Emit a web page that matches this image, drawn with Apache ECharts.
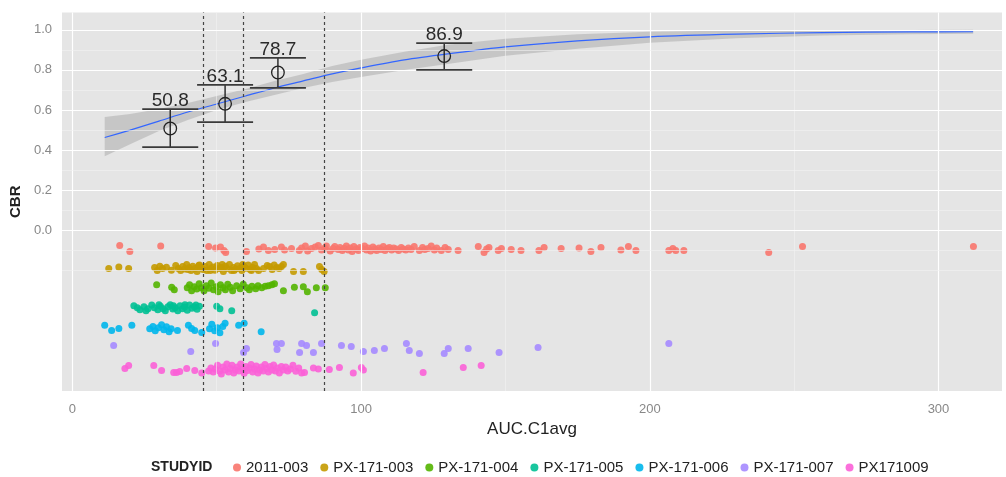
<!DOCTYPE html>
<html><head><meta charset="utf-8">
<script src="https://cdn.jsdelivr.net/npm/echarts@6.0.0/dist/echarts.min.js"></script>
<style>html,body{margin:0;padding:0;background:#fff}#chart{width:1006px;height:477px}</style>
</head><body><div id="chart"></div>
<script>
const FONT = '"Liberation Sans", Arial, sans-serif';

// ---- axes / ticks ----
const xTicks = [0, 100, 200, 300];
const xMinorBreaks = [50, 150, 250];
const yTicks = [0, 0.2, 0.4, 0.6, 0.8, 1.0];
const yMinorBreaks = [-0.2, -0.1, 0.1, 0.3, 0.5, 0.7, 0.9];
const xRange = [-3.6, 322];
const yRange = [-0.8, 1.086];

// ---- quartile cut points (dashed lines) ----
const quartileCuts = [45.4, 59.2, 87.3];

// ---- binned CBR with CI ----
const binX = [33.9, 52.9, 71.2, 128.8];
const binCBR = [0.508, 0.631, 0.787, 0.869];
const binLo = [0.415, 0.54, 0.71, 0.80];
const binHi = [0.605, 0.725, 0.86, 0.933];
const binLabels = ['50.8', '63.1', '78.7', '86.9'];

// ---- fitted logistic curve and its band ----
const fitX  = [11.2, 20, 30, 40, 50, 60, 70, 80, 90, 100, 115, 130, 150, 175, 200, 230, 260, 290, 312];
const fitY  = [0.463, 0.50, 0.545, 0.59, 0.63, 0.67, 0.71, 0.745, 0.78, 0.81, 0.85, 0.88, 0.915, 0.945, 0.965, 0.978, 0.986, 0.989, 0.99];
const fitLo = [0.37, 0.43, 0.495, 0.55, 0.60, 0.64, 0.675, 0.71, 0.74, 0.765, 0.80, 0.83, 0.87, 0.905, 0.935, 0.958, 0.972, 0.978, 0.98];
const fitHi = [0.565, 0.58, 0.605, 0.635, 0.67, 0.705, 0.745, 0.78, 0.82, 0.85, 0.89, 0.925, 0.955, 0.978, 0.99, 0.996, 0.998, 0.999, 1.0];

// ---- studies ----
const studyNames = ['2011-003', 'PX-171-003', 'PX-171-004', 'PX-171-005', 'PX-171-006', 'PX-171-007', 'PX171009'];
const studyColors = ['#F8766D', '#C49A00', '#53B400', '#00C094', '#00B6EB', '#A58AFF', '#FB61D7'];

const pts2011003 = [
[16.4,-0.075],[19.9,-0.105],[30.6,-0.078],[47.2,-0.08],[49.6,-0.088],[51.3,-0.082],[52.5,-0.1],[53.1,-0.11],[60.3,-0.105],[64.6,-0.092],[66.2,-0.083],[67.9,-0.1],[70.1,-0.095],[72.4,-0.082],[73.5,-0.098],[75.9,-0.09],[78.6,-0.1],[79.4,-0.088],[80.7,-0.078],[81.5,-0.102],[82.8,-0.09],[84.1,-0.083],[85.2,-0.075],[86.3,-0.098],[87.4,-0.088],[88,-0.078],[89.3,-0.103],[90.3,-0.09],[90.9,-0.08],
[92.1,-0.095],[92.7,-0.085],[93.5,-0.1],[94.2,-0.09],[94.9,-0.078],[95.6,-0.097],[96.2,-0.087],[96.9,-0.105],[97.5,-0.08],[98.3,-0.093],[99.1,-0.1],[99.6,-0.085],[100.4,-0.09],[101.2,-0.078],[101.9,-0.098],[102.5,-0.088],[103.3,-0.102],[104.1,-0.083],[104.8,-0.093],[105.4,-0.1],[106.2,-0.087],[106.9,-0.095],[107.7,-0.08],[108.3,-0.1],[109.1,-0.09],[109.8,-0.085],[110.6,-0.097],[111.3,-0.088],[112.2,-0.093],[113,-0.1],[113.9,-0.085],[114.6,-0.092],[115.5,-0.098],[116.4,-0.088],[117.3,-0.095],[118.4,-0.08],
[120.2,-0.1],[121.3,-0.085],[122.1,-0.095],[123.2,-0.09],[124.3,-0.078],[125.4,-0.098],[126.2,-0.088],[127.8,-0.1],[129.1,-0.085],[130.2,-0.095],[133.6,-0.1],[140.6,-0.08],[142.6,-0.11],[143.5,-0.092],[144.3,-0.085],[147.5,-0.1],[148.6,-0.09],[152,-0.095],[155.4,-0.1],[161.6,-0.1],[163.4,-0.085],[169.3,-0.09],[175.5,-0.088],[179.6,-0.105],[183.1,-0.085],[190,-0.098],[192.6,-0.08],[195.2,-0.1],[206.6,-0.1],[208,-0.09],[209,-0.1],[211.8,-0.1],[241.2,-0.11],[252.9,-0.08],[312.1,-0.08]
];
const ptsPX171003 = [
[12.6,-0.19],[16.1,-0.182],[19.5,-0.19],[28.5,-0.185],[29.4,-0.2],[30.3,-0.178],[31.2,-0.19],[32.6,-0.183],[34.3,-0.198],[35.8,-0.175],[36.7,-0.19],[37.5,-0.2],[38.2,-0.18],[38.9,-0.192],[39.6,-0.17],[40,-0.195],[40.4,-0.186],[41.1,-0.2],[41.7,-0.178],[42.5,-0.19],[43.2,-0.205],[43.8,-0.175],[44,-0.172],[44.5,-0.185],[45.3,-0.195],[46,-0.18],[46.6,-0.2],[47.4,-0.17],[47.8,-0.2],[48.1,-0.19],[48.7,-0.182],[49.4,-0.198],[50.2,-0.175],[50.9,-0.19],[51.5,-0.185],[51.9,-0.17],[52.3,-0.205],[53,-0.178],[53.6,-0.19],[54.4,-0.17],[55.1,-0.2],[55.8,-0.185],[56,-0.2],[56.5,-0.192],[57.2,-0.176],[58,-0.19],[58.7,-0.2],[59,-0.17],[59.4,-0.18],[60.1,-0.188],[60.9,-0.172],[61.6,-0.195],[62,-0.2],[62.4,-0.185],[63.1,-0.17],[63.8,-0.19],[64.5,-0.2],[66.2,-0.19],[67.5,-0.175],[68.3,-0.18],[69.2,-0.195],[69.9,-0.172],[70.8,-0.185],[71.6,-0.19],[72.4,-0.18],[73.1,-0.17],[76.6,-0.205],[80,-0.205],[85.6,-0.18],[86.4,-0.195],[87.2,-0.205]
];
const ptsPX171004 = [
[29.2,-0.27],[34.4,-0.283],[35.3,-0.295],[39.8,-0.285],[40.6,-0.27],[41.3,-0.3],[42.2,-0.28],[43.1,-0.292],[43.9,-0.265],[44.7,-0.285],[45.6,-0.3],[46.4,-0.275],[47.3,-0.288],[48.1,-0.262],[48.9,-0.295],[49.8,-0.28],[50.5,-0.305],[51.3,-0.27],[52.2,-0.285],[53,-0.295],[53.8,-0.268],[54.7,-0.283],[55.5,-0.3],[56.9,-0.275],[58.1,-0.29],[59.2,-0.268],[60.5,-0.285],[61.3,-0.295],[62.2,-0.278],[63.5,-0.29],[64.3,-0.275],[65.6,-0.285],[66.8,-0.278],[67.9,-0.275],[69.1,-0.27],[70,-0.265],[73.1,-0.3],[76.9,-0.283],[80,-0.28],[81.4,-0.305],[84.5,-0.285],[87.6,-0.285]
];
const ptsPX171005 = [
[21.3,-0.375],[22.5,-0.385],[23.4,-0.395],[24.8,-0.38],[25.5,-0.4],[26.2,-0.39],[27.5,-0.372],[28.4,-0.385],[29.6,-0.395],[30,-0.37],[30.5,-0.378],[31.4,-0.39],[32.2,-0.4],[33.1,-0.38],[33.9,-0.37],[34.8,-0.392],[35,-0.375],[35.6,-0.385],[36.5,-0.4],[37.3,-0.375],[38.1,-0.39],[38.9,-0.382],[39,-0.37],[39.8,-0.398],[40.6,-0.372],[41.4,-0.388],[42.3,-0.38],[42.8,-0.372],[43.2,-0.393],[44,-0.378],[50,-0.378],[51.1,-0.39],[55.2,-0.4],[83.9,-0.41]
];
const ptsPX171006 = [
[11.2,-0.473],[13.6,-0.498],[16.1,-0.488],[20.6,-0.473],[26.8,-0.49],[27.9,-0.478],[28.7,-0.5],[29.8,-0.485],[30.9,-0.47],[31.7,-0.495],[32.6,-0.48],[33.5,-0.505],[34.2,-0.49],[36.4,-0.498],[40.2,-0.473],[41.3,-0.488],[42.4,-0.498],[44.8,-0.508],[47.5,-0.49],[48.3,-0.468],[49.3,-0.5],[50.2,-0.485],[51.1,-0.51],[52.1,-0.478],[52.9,-0.463],[57.6,-0.473],[59.5,-0.463],[65.4,-0.505]
];
const ptsPX171007 = [
[14.3,-0.573],[41,-0.603],[49.6,-0.563],[59.3,-0.608],[60.3,-0.588],[70.7,-0.563],[72.4,-0.563],[70.9,-0.593],[78.7,-0.608],[79.4,-0.563],[81.1,-0.573],[83.5,-0.608],[86.3,-0.563],[93.2,-0.573],[96.6,-0.578],[100.8,-0.603],[104.6,-0.598],[108.1,-0.588],[115.7,-0.563],[116.7,-0.598],[120.2,-0.613],[128.8,-0.613],[130.2,-0.588],[137.1,-0.588],[147.8,-0.608],[161.3,-0.583],[206.6,-0.563]
];
const ptsPX171009 = [
[18.2,-0.688],[19.5,-0.673],[28.2,-0.673],[30.9,-0.698],[35.1,-0.708],[36.1,-0.708],[37.2,-0.703],[39.6,-0.688],[42.4,-0.698],[44.8,-0.71],
[47.2,-0.7],[48,-0.685],[48.8,-0.705],[49.5,-0.69],[50.3,-0.672],[51,-0.7],[51.6,-0.715],[52.2,-0.68],[52.9,-0.695],[53.5,-0.665],[54.1,-0.705],[54.7,-0.688],[55.3,-0.672],[55.9,-0.71],[56.5,-0.695],[57.1,-0.68],[57.7,-0.7],[58.3,-0.665],[58.9,-0.69],[59.5,-0.712],[60.1,-0.678],[60.7,-0.698],[61.3,-0.685],[61.9,-0.668],[62.5,-0.705],[63.1,-0.69],[63.7,-0.675],[64.3,-0.71],[64.9,-0.695],[65.5,-0.68],[66.1,-0.7],[66.7,-0.668],[67.3,-0.688],[67.9,-0.705],[68.5,-0.678],[69.1,-0.695],[69.7,-0.67],[70.3,-0.7],[71,-0.685],[71.7,-0.71],[72.4,-0.678],[73.1,-0.695],[73.9,-0.68],[74.6,-0.7],[75.5,-0.69],[76.4,-0.672],[77.4,-0.702],[78.4,-0.685],[79.4,-0.71],
[80.4,-0.708],[83.5,-0.685],[85.2,-0.69],[89,-0.693],[92.5,-0.683],[97.3,-0.71],[100.1,-0.683],[100.8,-0.695],[121.5,-0.708],[135.4,-0.683],[141.6,-0.673]
];
const studyPoints = [pts2011003, ptsPX171003, ptsPX171004, ptsPX171005, ptsPX171006, ptsPX171007, ptsPX171009];

// ---- build option ----
const gridLines = [];
xTicks.forEach(v => gridLines.push({xAxis: v, lineStyle: {color: '#ffffff', width: 1.2}}));
xMinorBreaks.forEach(v => gridLines.push({xAxis: v, lineStyle: {color: '#F2F2F2', width: 0.6}}));
yTicks.forEach(v => gridLines.push({yAxis: v, lineStyle: {color: '#ffffff', width: 1.2}}));
yMinorBreaks.forEach(v => gridLines.push({yAxis: v, lineStyle: {color: '#F2F2F2', width: 0.6}}));

const series = [];
series.push({
  type: 'line', data: [], z: 1, silent: true,
  markLine: {silent: true, symbol: 'none', animation: false, label: {show: false},
    lineStyle: {type: 'solid'}, data: gridLines}
});
studyNames.forEach((name, i) => {
  series.push({
    name: name, type: 'scatter', data: studyPoints[i], z: 2,
    symbolSize: 7, itemStyle: {color: studyColors[i], opacity: 0.9}
  });
});
series.push({
  type: 'custom', z: 3, silent: true,
  data: fitX.map((x, i) => [x, fitLo[i], fitHi[i]]),
  encode: {x: 0, y: [1, 2]},
  renderItem: function (params, api) {
    if (params.dataIndex !== 0) return null;
    const pts = [];
    for (let i = 0; i < fitX.length; i++) pts.push(api.coord([fitX[i], fitHi[i]]));
    for (let i = fitX.length - 1; i >= 0; i--) pts.push(api.coord([fitX[i], fitLo[i]]));
    return {type: 'polygon', shape: {points: pts, smooth: 0}, style: {fill: 'rgba(153,153,153,0.4)', stroke: null}};
  }
});
series.push({
  type: 'line', z: 4, silent: true, smooth: 0.3, symbol: 'none',
  data: fitX.map((x, i) => [x, fitY[i]]),
  lineStyle: {color: '#3366FF', width: 1.2}
});
series.push({
  type: 'line', data: [], z: 5, silent: true,
  markLine: {silent: true, symbol: 'none', animation: false, label: {show: false},
    lineStyle: {type: [3, 3], color: '#444', width: 1.2},
    data: quartileCuts.map(v => ({xAxis: v}))}
});
series.push({
  type: 'custom', z: 6, silent: true,
  data: binX.map((x, i) => [x, binCBR[i], binLo[i], binHi[i]]),
  encode: {x: 0, y: [1, 2, 3]},
  renderItem: function (params, api) {
    const x = api.value(0);
    const c = api.coord([x, api.value(1)]);
    const lo = api.coord([x, api.value(2)]);
    const hi = api.coord([x, api.value(3)]);
    const hw = 28;
    return {type: 'group', children: [
      {type: 'line', shape: {x1: c[0], y1: lo[1], x2: c[0], y2: hi[1]}, style: {stroke: '#222', lineWidth: 1.4}},
      {type: 'line', shape: {x1: c[0] - hw, y1: lo[1], x2: c[0] + hw, y2: lo[1]}, style: {stroke: '#3a3a3a', lineWidth: 1.8}},
      {type: 'line', shape: {x1: c[0] - hw, y1: hi[1], x2: c[0] + hw, y2: hi[1]}, style: {stroke: '#3a3a3a', lineWidth: 1.8}},
      {type: 'circle', shape: {cx: c[0], cy: c[1], r: 6.3}, style: {fill: 'none', stroke: '#222', lineWidth: 1.3}},
      {type: 'text', x: c[0], y: hi[1] + 1, style: {text: binLabels[params.dataIndex], fill: '#2a2a2a',
        font: '19px ' + FONT, align: 'center', verticalAlign: 'bottom'}}
    ]};
  }
});

const option = {
  animation: false,
  backgroundColor: '#ffffff',
  textStyle: {fontFamily: FONT},
  grid: {left: 60, right: 4, top: 12.5, bottom: 86, show: true, backgroundColor: '#E5E5E5', borderWidth: 0},
  xAxis: {
    type: 'value', min: xRange[0], max: xRange[1],
    axisLine: {show: false}, splitLine: {show: false},
    axisTick: {show: true, customValues: xTicks, length: 4, lineStyle: {color: '#7f7f7f'}},
    axisLabel: {customValues: xTicks, margin: 12, color: '#888', fontSize: 13, fontFamily: FONT},
    name: 'AUC.C1avg', nameLocation: 'middle', nameGap: 27,
    nameTextStyle: {fontSize: 17, color: '#222', fontFamily: FONT}
  },
  yAxis: {
    type: 'value', min: yRange[0], max: yRange[1],
    axisLine: {show: false}, splitLine: {show: false},
    axisTick: {show: true, customValues: yTicks, length: 4, lineStyle: {color: '#7f7f7f'}},
    axisLabel: {customValues: yTicks, margin: 10, color: '#888', fontSize: 13, fontFamily: FONT,
      formatter: v => Number(v).toFixed(1)},
    name: 'CBR', nameLocation: 'middle', nameGap: 33, nameRotate: 90,
    nameTextStyle: {fontSize: 15, fontWeight: 'bold', color: '#222', fontFamily: FONT}
  },
  legend: {
    data: studyNames, left: 228, top: 455, icon: 'circle', itemWidth: 8, itemHeight: 8,
    itemGap: 12, selectedMode: false,
    textStyle: {fontSize: 15, color: '#222', fontFamily: FONT}
  },
  graphic: [{type: 'text', x: 151, y: 467, style: {text: 'STUDYID', font: 'bold 14px ' + FONT, fill: '#222', verticalAlign: 'middle'}}],
  series: series
};

const chart = echarts.init(document.getElementById('chart'), null, {renderer: 'canvas'});
chart.setOption(option);
</script></body></html>
